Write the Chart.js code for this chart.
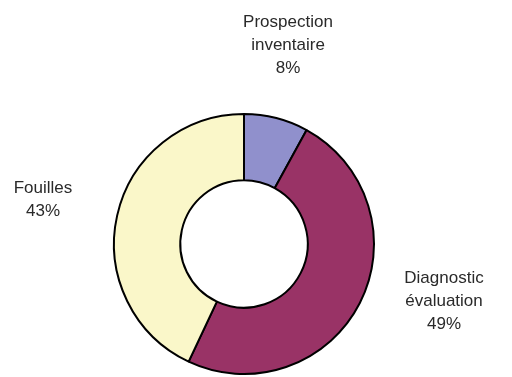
<!DOCTYPE html>
<html>
<head>
<meta charset="utf-8">
<script src="https://cdn.jsdelivr.net/npm/chart.js@4/dist/chart.umd.min.js"></script>
<style>
  html, body { margin: 0; padding: 0; background: #fff; }
  #wrap { width: 512px; height: 377px; position: relative; }
</style>
</head>
<body>
<div id="wrap"><canvas id="pie"></canvas></div>
<script>
// Data
const categories = ['Prospection inventaire', 'Diagnostic évaluation', 'Fouilles'];
const labelLines = [['Prospection', 'inventaire'], ['Diagnostic', 'évaluation'], ['Fouilles']];
const values = [8, 49, 43];
const sliceColors = ['#9090CC', '#993366', '#FAF7C9'];

// where each label block is centred (page pixels)
const labelAnchors = [[288, 45], [444, 301], [43, 200]];

// Draw the outside labels, Excel style
const outsideLabels = {
    id: 'outsideLabels',
    afterDraw(chart) {
        const ctx = chart.ctx;
        const total = values.reduce((a, b) => a + b, 0);
        const lineH = 23;
        ctx.save();
        ctx.font = '17px "Liberation Sans", Arial, sans-serif';
        ctx.fillStyle = '#2a2a2a';
        ctx.textAlign = 'center';
        ctx.textBaseline = 'middle';
        values.forEach((v, i) => {
            const lines = labelLines[i].concat([Math.round(v / total * 100) + '%']);
            const [cx, cy] = labelAnchors[i];
            const y0 = cy - (lines.length - 1) * lineH / 2;
            lines.forEach((t, j) => ctx.fillText(t, cx, y0 + j * lineH));
        });
        ctx.restore();
    }
};

const ctx = document.getElementById('pie').getContext('2d');
new Chart(ctx, {
    type: 'doughnut',
    data: {
        labels: categories,
        datasets: [{
            data: values,
            backgroundColor: sliceColors,
            borderColor: '#000',
            borderWidth: 2
        }]
    },
    options: {
        responsive: true,
        maintainAspectRatio: false,
        animation: false,
        cutout: '49%',
        layout: { padding: { left: 113, right: 137, top: 113, bottom: 2 } },
        plugins: {
            legend: { display: false },
            tooltip: { enabled: false }
        }
    },
    plugins: [outsideLabels]
});
</script>
</body>
</html>
